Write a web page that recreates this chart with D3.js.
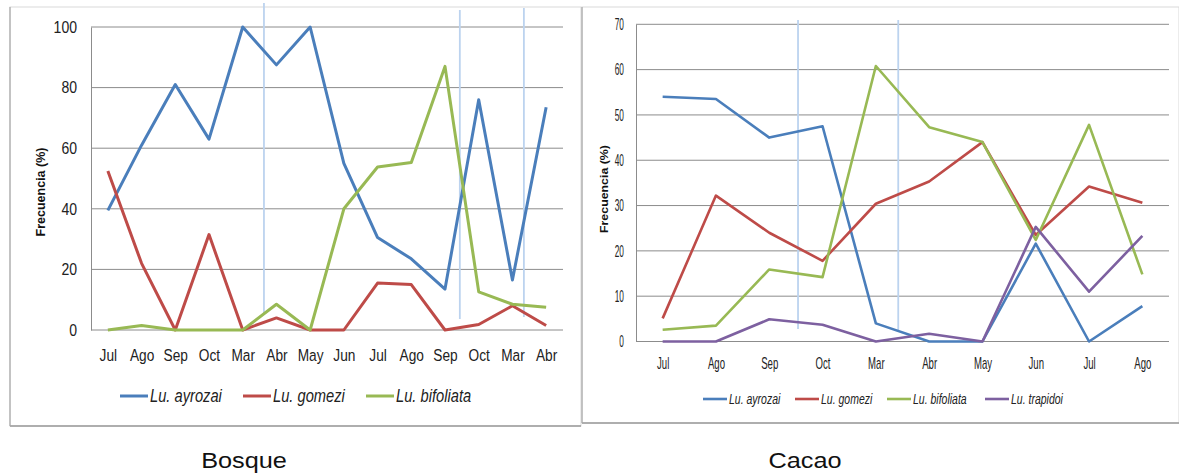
<!DOCTYPE html>
<html>
<head>
<meta charset="utf-8">
<script src="https://cdn.jsdelivr.net/npm/d3@7"></script>
<style>
  html, body { margin: 0; padding: 0; background: #fff; }
  svg { display: block; }
</style>
</head>
<body>
<svg id="chart" width="1179" height="475"></svg>
<script>
// Bosque panel: 14 sampling months
const bosqueMonths = ["Jul","Ago","Sep","Oct","Mar","Abr","May","Jun","Jul","Ago","Sep","Oct","Mar","Abr"];
const bosqueAyrozai   = [39.5, 61, 81, 63, 100, 87.5, 100, 55, 30.5, 23.5, 13.5, 76, 16.5, 73.5];
const bosqueGomezi    = [52.5, 22, 0, 31.5, 0, 4, 0, 0, 15.5, 15, 0, 1.8, 8, 1.5];
const bosqueBifoliata = [0, 1.5, 0, 0, 0, 8.5, 0, 40, 53.8, 55.3, 87, 12.6, 8.5, 7.5];
const bosqueTicks = [0, 20, 40, 60, 80, 100];
const bosqueDividers = [4.63, 10.44, 12.34]; // season breaks, in category-index units

// Cacao panel: 10 sampling months
const cacaoMonths = ["Jul","Ago","Sep","Oct","Mar","Abr","May","Jun","Jul","Ago"];
const cacaoAyrozai   = [54, 53.5, 45, 47.5, 4, 0, 0, 21.6, 0, 7.8];
const cacaoGomezi    = [5.1, 32.2, 24, 17.8, 30.4, 35.3, 44, 23.5, 34.2, 30.6];
const cacaoBifoliata = [2.6, 3.5, 15.9, 14.2, 60.8, 47.3, 44, 22.4, 47.8, 14.8];
const cacaoTrapidoi  = [0, 0, 4.9, 3.7, 0, 1.7, 0, 25.3, 11, 23.3];
const cacaoTicks = [0, 10, 20, 30, 40, 50, 60, 70];
const cacaoDividers = [2.54, 4.42];

const speciesNames = ["Lu. ayrozai", "Lu. gomezi", "Lu. bifoliata", "Lu. trapidoi"];
const speciesColors = ["#4a7ebb", "#be4b48", "#98b954", "#7d60a0"];

const svg = d3.select("#chart");
const sans = "'Liberation Sans', Arial, sans-serif";

function drawPanel(p) {
  const g = svg.append("g");

  // panel frame
  g.append("rect")
    .attr("x", p.frame[0]).attr("y", p.frame[1])
    .attr("width", p.frame[2]).attr("height", p.frame[3])
    .attr("fill", "#fff").attr("stroke", "#d9d9d9").attr("stroke-width", 1);
  g.append("line")
    .attr("x1", p.frame[0]).attr("x2", p.frame[0] + p.frame[2])
    .attr("y1", p.frame[1] + p.frame[3]).attr("y2", p.frame[1] + p.frame[3])
    .attr("stroke", "#9a9a9a").attr("stroke-width", 1.5);
  g.append("line")
    .attr("x1", p.frame[0]).attr("x2", p.frame[0])
    .attr("y1", p.frame[1]).attr("y2", p.frame[1] + p.frame[3])
    .attr("stroke", "#a8a8a8").attr("stroke-width", 1.2);

  const x = d3.scalePoint()
    .domain(d3.range(p.months.length))
    .range([p.left, p.right])
    .padding(0.5);
  const step = x.step();
  const y = d3.scaleLinear().domain(p.yDomain).range([p.bottom, p.top]);

  // horizontal gridlines
  g.append("g").selectAll("line").data(p.ticks).join("line")
    .attr("x1", p.left).attr("x2", p.right)
    .attr("y1", d => y(d)).attr("y2", d => y(d))
    .attr("stroke", "#8c8c8c").attr("stroke-width", 1);

  // y axis (labels condensed horizontally)
  const ya = g.append("g")
    .attr("transform", `translate(${p.left},0)`)
    .call(d3.axisLeft(y).tickValues(p.ticks).tickSize(0).tickPadding(p.yTickPad));
  ya.select(".domain").attr("stroke", "#8c8c8c");
  ya.selectAll("text")
    .style("font-family", sans).style("font-size", p.tickFont + "px").attr("fill", "#222")
    .attr("x", -p.yTickPad / p.tickSx)
    .attr("transform", `scale(${p.tickSx},1)`);

  // x axis
  const xa = g.append("g")
    .attr("transform", `translate(0,${p.bottom})`)
    .call(d3.axisBottom(x).tickFormat(i => p.months[i]).tickSize(0).tickPadding(p.xTickPad));
  xa.select(".domain").remove();
  xa.selectAll("text")
    .style("font-family", sans).style("font-size", p.tickFont + "px").attr("fill", "#222")
    .attr("transform", `scale(${p.xTickSx},1)`);

  // season divider lines
  g.append("g").selectAll("line").data(p.dividers).join("line")
    .attr("x1", d => x(0) + d * step).attr("x2", d => x(0) + d * step)
    .attr("y1", (d, i) => p.dividerY[i][0]).attr("y2", (d, i) => p.dividerY[i][1])
    .attr("stroke", "#bcd3ef").attr("stroke-width", 1.8);

  // y title
  g.append("text")
    .attr("transform", `translate(${p.titleX},${p.titleY}) rotate(-90)`)
    .attr("x", -p.titleLen / 2)
    .attr("textLength", p.titleLen)
    .attr("lengthAdjust", "spacingAndGlyphs")
    .style("font-family", sans)
    .style("font-weight", "bold")
    .style("font-size", p.titleFont + "px")
    .attr("fill", "#111")
    .text("Frecuencia (%)");

  // series lines
  const line = d3.line().x((d, i) => x(i)).y(d => y(d));
  p.series.forEach((s, k) => {
    g.append("path")
      .datum(s)
      .attr("d", line)
      .attr("fill", "none")
      .attr("stroke", speciesColors[k])
      .attr("stroke-width", p.lineWidth)
      .attr("stroke-linejoin", "round");
  });

  // legend
  const lg = g.append("g");
  p.series.forEach((s, k) => {
    const lx = p.legendX[k];
    lg.append("line")
      .attr("x1", lx).attr("x2", lx + p.legendLine)
      .attr("y1", p.legendY).attr("y2", p.legendY)
      .attr("stroke", speciesColors[k]).attr("stroke-width", p.lineWidth);
    lg.append("text")
      .attr("transform", `translate(${lx + p.legendLine + 2},${p.legendY}) scale(${p.legendSx},1)`)
      .attr("dy", "0.36em")
      .style("font-family", sans)
      .style("font-style", "italic")
      .style("font-size", p.legendFont + "px")
      .attr("fill", "#222")
      .text(speciesNames[k]);
  });

  // caption
  svg.append("text")
    .attr("transform", `translate(${p.captionX},468) scale(1.15,1)`)
    .attr("text-anchor", "middle")
    .style("font-family", sans)
    .style("font-size", "22px")
    .attr("fill", "#111")
    .text(p.caption);
}

drawPanel({
  frame: [10, 7, 571, 419],
  months: bosqueMonths,
  series: [bosqueAyrozai, bosqueGomezi, bosqueBifoliata],
  ticks: bosqueTicks,
  yDomain: [0, 100],
  left: 91, right: 563, top: 27, bottom: 330,
  tickFont: 16.5, tickSx: 0.85, xTickSx: 0.83, yTickPad: 14, xTickPad: 19,
  dividers: bosqueDividers,
  dividerY: [[3, 313], [10, 319], [8, 317]],
  titleX: 45, titleY: 192, titleFont: 13.5, titleLen: 89,
  lineWidth: 3,
  legendX: [120, 243, 366], legendLine: 28, legendY: 396, legendFont: 17.5, legendSx: 0.84,
  caption: "Bosque", captionX: 244
});

drawPanel({
  frame: [582, 7, 597, 416],
  months: cacaoMonths,
  series: [cacaoAyrozai, cacaoGomezi, cacaoBifoliata, cacaoTrapidoi],
  ticks: cacaoTicks,
  yDomain: [0, 70],
  left: 636, right: 1169, top: 24.3, bottom: 341.5,
  tickFont: 16, tickSx: 0.52, xTickSx: 0.6, yTickPad: 12, xTickPad: 16.5,
  dividers: cacaoDividers,
  dividerY: [[20, 329], [20, 330]],
  titleX: 608, titleY: 189, titleFont: 11.5, titleLen: 88,
  lineWidth: 2.6,
  legendX: [703, 795, 887, 985], legendLine: 24, legendY: 399, legendFont: 15, legendSx: 0.7,
  caption: "Cacao", captionX: 805
});
</script>
</body>
</html>
